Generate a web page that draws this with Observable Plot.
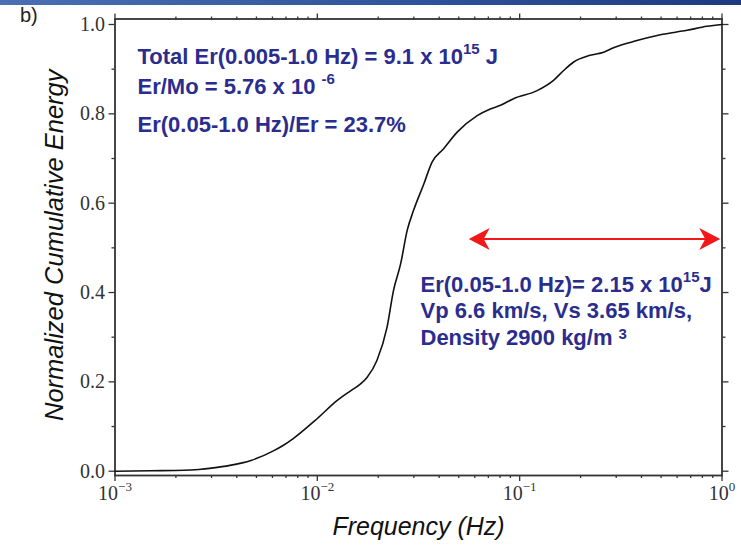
<!DOCTYPE html>
<html><head><meta charset="utf-8">
<script src="https://cdn.jsdelivr.net/npm/d3@7"></script>
<script src="https://cdn.jsdelivr.net/npm/@observablehq/plot@0.6"></script>
<style>
body{margin:0;background:#fff;}
#wrap{position:relative;width:741px;height:545px;overflow:hidden;background:#fff;}
#band{position:absolute;left:0;top:0;width:741px;height:5px;z-index:2;background:linear-gradient(to right,#4b6fb4,#2d509a 60%,#1d3a80);}
#tag{position:absolute;left:20px;top:4px;z-index:2;font:20px "Liberation Sans",Arial,sans-serif;color:#222;}
#wrap svg{position:absolute;left:0;top:0;}
svg text{white-space:pre;}
</style></head><body>
<div id="wrap"><div id="band"></div><div id="tag">b)</div></div>
<script>
// ---- data ----
const freqHz = [0.001, 0.0015, 0.0022, 0.0026, 0.0030, 0.0037, 0.0047, 0.0061, 0.0068, 0.0076, 0.0100, 0.0125, 0.0146, 0.0163, 0.0176, 0.0197, 0.0221, 0.0238, 0.0258, 0.0278, 0.0299, 0.0336, 0.0369, 0.0421, 0.0491, 0.0617, 0.0716, 0.0804, 0.0933, 0.122, 0.147, 0.165, 0.185, 0.223, 0.260, 0.291, 0.380, 0.495, 0.671, 0.843, 1.0];
const cumEnergy = [0.000, 0.001, 0.002, 0.004, 0.007, 0.013, 0.024, 0.046, 0.058, 0.073, 0.118, 0.158, 0.180, 0.195, 0.210, 0.248, 0.322, 0.405, 0.464, 0.539, 0.584, 0.643, 0.692, 0.722, 0.759, 0.796, 0.811, 0.819, 0.834, 0.852, 0.875, 0.897, 0.916, 0.931, 0.938, 0.948, 0.964, 0.977, 0.987, 0.996, 1.000];

const xMajorTicks = [0.001, 0.01, 0.1, 1];
const xTickLabels = ["10^{−3}", "10^{−2}", "10^{−1}", "10^{0}"];
const xMinorTicks = [0.002,0.003,0.004,0.005,0.006,0.007,0.008,0.009,
                     0.02,0.03,0.04,0.05,0.06,0.07,0.08,0.09,
                     0.2,0.3,0.4,0.5,0.6,0.7,0.8,0.9];
const yMajorTicks = [0, 0.2, 0.4, 0.6, 0.8, 1.0];
const yMinorTicks = [0.1, 0.3, 0.5, 0.7, 0.9];

const arrowFrom = 0.056, arrowTo = 0.98, arrowLevel = 0.52;

// "^{..}" = superscript, "^N{..}" = superscript raised N px
const notesLeft = ["Total Er(0.005-1.0 Hz) = 9.1 x 10^{15} J", "Er/Mo = 5.76 x 10 ^{-6}", "Er(0.05-1.0 Hz)/Er = 23.7%"];
const notesRight = ["Er(0.05-1.0 Hz)= 2.15 x 10^{15}J", "Vp 6.6 km/s, Vs 3.65 km/s,", "Density 2900 kg/m ^6{3}"];

const xTitle = "Frequency (Hz)";
const yTitle = "Normalized Cumulative Energy";

// ---- drawing ----
const curveData = freqHz.map((f, i) => ({f, e: cumEnergy[i]}));
const noteColor = "#2b2d8e";
const sans = "'Liberation Sans', Arial, Helvetica, sans-serif";
const red = "#f01818";
const axisInk = "#333";

const headLeft = {draw(ctx){ ctx.moveTo(0,0); ctx.lineTo(21,-11); ctx.lineTo(15,0); ctx.lineTo(21,11); ctx.closePath(); }};
const headRight = {draw(ctx){ ctx.moveTo(0,0); ctx.lineTo(-21,-11); ctx.lineTo(-15,0); ctx.lineTo(-21,11); ctx.closePath(); }};

const leftDy = [44.5, 74.5, 112.5];
const rightDy = [272.5, 299, 325.5];

const fmtX = d => xTickLabels[xMajorTicks.indexOf(d)];
const fmtY = d3.format(".1f");

const tickCommon = {stroke: axisInk, strokeWidth: 1.3, label: null, fill: axisInk, fontSize: 20};
const noteStyle = {text: d => d, frameAnchor: "top-left", textAnchor: "start", lineAnchor: "bottom", fontSize: 22, fontWeight: "bold", fontFamily: sans, fill: noteColor};

const plot = Plot.plot({
  width: 741, height: 545,
  marginLeft: 114.5, marginRight: 19.5, marginTop: 18.5, marginBottom: 70,
  x: {type: "log", domain: [0.001, 1]},
  y: {domain: [-0.0096, 1.0123]},
  style: {fontFamily: "'Liberation Serif', 'Times New Roman', serif", background: "transparent", overflow: "visible"},
  marks: [
    Plot.axisX(xMajorTicks, {...tickCommon, anchor: "bottom", tickSize: 6, tickPadding: 4, tickFormat: fmtX}),
    Plot.axisX(xMinorTicks, {...tickCommon, anchor: "bottom", tickSize: 3, tickFormat: () => ""}),
    Plot.axisX(xMajorTicks, {...tickCommon, anchor: "top", tickSize: 6, tickFormat: () => ""}),
    Plot.axisX(xMinorTicks, {...tickCommon, anchor: "top", tickSize: 3, tickFormat: () => ""}),
    Plot.axisY(yMajorTicks, {...tickCommon, anchor: "left", tickSize: 6, tickPadding: 4, tickFormat: fmtY}),
    Plot.axisY(yMinorTicks, {...tickCommon, anchor: "left", tickSize: 3, tickFormat: () => ""}),
    Plot.axisY(yMajorTicks, {...tickCommon, anchor: "right", tickSize: 6, tickFormat: () => ""}),
    Plot.axisY(yMinorTicks, {...tickCommon, anchor: "right", tickSize: 3, tickFormat: () => ""}),
    Plot.frame({stroke: axisInk, strokeWidth: 1.8}),
    Plot.line(curveData, {x: "f", y: "e", curve: "monotone-x", stroke: "#111", strokeWidth: 1.6}),
    Plot.link([{a: arrowFrom, b: arrowTo, y: arrowLevel}], {x1: d => d.a * 1.15, x2: d => d.b / 1.08, y1: "y", y2: "y", stroke: red, strokeWidth: 2}),
    Plot.dot([{x: arrowFrom, y: arrowLevel}], {x: "x", y: "y", symbol: headLeft, fill: red, stroke: "none"}),
    Plot.dot([{x: arrowTo, y: arrowLevel}], {x: "x", y: "y", symbol: headRight, fill: red, stroke: "none"}),
    ...notesLeft.map((t, i) => Plot.text([t], {...noteStyle, dx: 22.5, dy: leftDy[i]})),
    ...notesRight.map((t, i) => Plot.text([t], {...noteStyle, dx: 305.5, dy: rightDy[i]})),
    Plot.text([xTitle], {text: d => d, frameAnchor: "bottom", dy: 59, textAnchor: "middle", lineAnchor: "bottom", fontSize: 25, fontStyle: "italic", fontFamily: sans, fill: "#111"}),
    Plot.text([yTitle], {text: d => d, frameAnchor: "left", dx: -60.5, dy: -2, textAnchor: "middle", lineAnchor: "middle", rotate: -90, fontSize: 25.5, fontStyle: "italic", fontFamily: sans, fill: "#111"})
  ]
});

document.getElementById("wrap").appendChild(plot);

// turn "^{...}" markup into raised tspans
const NS = "http://www.w3.org/2000/svg";
plot.querySelectorAll("text").forEach(t => {
  const spans = t.querySelectorAll("tspan");
  const targets = spans.length ? [...spans] : [t];
  targets.forEach(el => {
    const s = el.textContent;
    if (!s.includes("^")) return;
    const fs = parseFloat(getComputedStyle(el).fontSize) || 20;
    const sup = Math.round(fs * 0.66);
    const parts = s.split(/\^(\d*)\{([^}]*)\}/);
    el.textContent = "";
    let lastRise = 0;
    for (let i = 0; i < parts.length; i += 3) {
      const normal = parts[i];
      if (normal) {
        const ts = document.createElementNS(NS, "tspan");
        ts.textContent = normal;
        if (lastRise) { ts.setAttribute("dy", lastRise); lastRise = 0; }
        el.appendChild(ts);
      }
      if (i + 2 < parts.length) {
        const rise = parts[i + 1] ? +parts[i + 1] : fs * 0.45;
        const ts = document.createElementNS(NS, "tspan");
        ts.textContent = parts[i + 2];
        ts.setAttribute("font-size", sup);
        ts.setAttribute("dy", -rise);
        lastRise = rise;
        el.appendChild(ts);
      }
    }
  });
});
</script>
</body></html>
